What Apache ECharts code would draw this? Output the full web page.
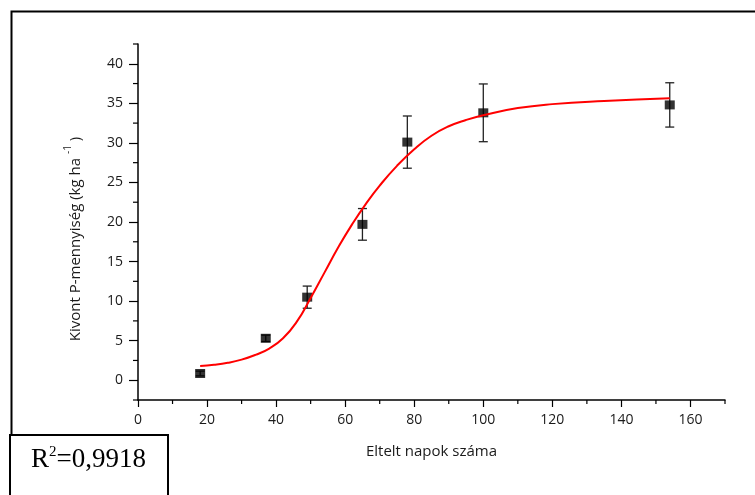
<!DOCTYPE html>
<html>
<head>
<meta charset="utf-8">
<script src="https://cdn.jsdelivr.net/npm/echarts@6/dist/echarts.min.js"></script>
<style>
html,body{margin:0;padding:0;background:#fff;}
#chart{width:755px;height:495px;}
</style>
</head>
<body>
<div id="chart"></div>
<script>
// Measured data points (day, mean, +/- error)
const days = [18, 37, 49, 65, 78, 100, 154];
const meanP = [0.85, 5.3, 10.5, 19.7, 30.1, 33.8, 34.8];
const errP = [0.3, 0.4, 1.4, 2.0, 3.3, 3.65, 2.8];

// Fitted curve
const fitDays = [18, 22, 26, 30, 34, 38, 42, 46, 50, 54, 58, 62, 66, 70, 75, 80, 85, 90, 95, 100, 110, 120, 135, 154];
const fitP = [1.8, 1.95, 2.2, 2.6, 3.2, 4.0, 5.3, 7.4, 10.4, 13.6, 16.8, 19.7, 22.3, 24.6, 27.1, 29.2, 30.9, 32.1, 32.9, 33.5, 34.4, 34.9, 35.3, 35.65];

// Axis ticks
const xMajorTicks = [0, 20, 40, 60, 80, 100, 120, 140, 160];
const xMinorTicks = [10, 30, 50, 70, 90, 110, 130, 150, 170];
const yMajorTicks = [0, 5, 10, 15, 20, 25, 30, 35, 40];
const yMinorTicks = [-2.5, 2.5, 7.5, 12.5, 17.5, 22.5, 27.5, 32.5, 37.5, 42.5];
const xMin = 0, xMax = 170, yMin = -2.5, yMax = 42.5;

const xTitle = 'Eltelt napok száma';
const yTitleMain = 'Kivont P-mennyiség (kg ha ';
const yTitleSup = '-1';
const yTitleEnd = ' )';
const r2Label = 'R';
const r2Sup = '2';
const r2Value = '=0,9918';

const chart = echarts.init(document.getElementById('chart'), null, {renderer: 'canvas'});

const axisFont = {fontFamily: 'Open Sans', fontSize: 14, color: '#1a1a1a'};
const tickStyle = {stroke: '#000', lineWidth: 1.2};

function minorTickSeries(values, isX, len) {
  return {
    type: 'custom',
    xAxisIndex: 0, yAxisIndex: 0,
    silent: true, clip: false, z: 1,
    data: values.map(v => isX ? [v, yMin] : [xMin, v]),
    renderItem: function (params, api) {
      const p = api.coord([api.value(0), api.value(1)]);
      const shape = isX
        ? {x1: p[0], y1: p[1], x2: p[0], y2: p[1] + len}
        : {x1: p[0] - len, y1: p[1], x2: p[0], y2: p[1]};
      return {type: 'line', shape: shape, style: tickStyle};
    }
  };
}

const option = {
  animation: false,
  backgroundColor: '#fff',
  grid: {left: 138, right: 30, top: 44, bottom: 95, containLabel: false},
  xAxis: {
    type: 'value', min: xMin, max: xMax,
    axisLine: {show: true, onZero: false, lineStyle: {color: '#000', width: 1.5}},
    axisTick: {show: true, length: 7, customValues: xMajorTicks, lineStyle: {color: '#000', width: 1.2}},
    axisLabel: Object.assign({customValues: xMajorTicks, margin: 13}, axisFont),
    splitLine: {show: false},
    name: xTitle, nameLocation: 'middle', nameGap: 44,
    nameTextStyle: {fontFamily: 'Open Sans', fontSize: 15, color: '#1a1a1a'}
  },
  yAxis: {
    type: 'value', min: yMin, max: yMax,
    axisLine: {show: true, onZero: false, lineStyle: {color: '#000', width: 1.5}},
    axisTick: {show: true, length: 9, customValues: yMajorTicks, lineStyle: {color: '#000', width: 1.2}},
    axisLabel: Object.assign({customValues: yMajorTicks, margin: 15}, axisFont),
    splitLine: {show: false},
    name: '{t|' + yTitleMain + '}{s|' + yTitleSup + '}{t|' + yTitleEnd + '}',
    nameLocation: 'middle', nameGap: 49,
    nameTextStyle: {
      fontFamily: 'Open Sans', fontSize: 15, color: '#1a1a1a',
      padding: [0, 34, 0, 0],
      rich: {
        t: {fontFamily: 'Open Sans', fontSize: 15, color: '#1a1a1a', lineHeight: 26},
        s: {fontFamily: 'Open Sans', fontSize: 10, color: '#1a1a1a', lineHeight: 10, verticalAlign: 'top'}
      }
    }
  },
  series: [
    minorTickSeries(xMinorTicks, true, 4),
    minorTickSeries(yMinorTicks, false, 5),
    {
      type: 'custom',
      data: days.map((d, i) => [d, meanP[i] - errP[i], meanP[i] + errP[i]]),
      z: 2,
      renderItem: function (params, api) {
        const x = api.value(0);
        const top = api.coord([x, api.value(2)]);
        const bot = api.coord([x, api.value(1)]);
        const hw = 4.5;
        const st = {stroke: '#222', lineWidth: 1.3};
        return {
          type: 'group',
          children: [
            {type: 'line', shape: {x1: top[0], y1: top[1], x2: bot[0], y2: bot[1]}, style: st},
            {type: 'line', shape: {x1: top[0] - hw, y1: top[1], x2: top[0] + hw, y2: top[1]}, style: st},
            {type: 'line', shape: {x1: bot[0] - hw, y1: bot[1], x2: bot[0] + hw, y2: bot[1]}, style: st}
          ]
        };
      }
    },
    {
      type: 'scatter',
      symbol: 'rect', symbolSize: [10, 9],
      itemStyle: {color: '#000'},
      z: 3,
      data: days.map((d, i) => [d, meanP[i]])
    },
    {
      type: 'line',
      showSymbol: false, smooth: 0.5,
      lineStyle: {color: '#ff0000', width: 2},
      z: 4,
      data: fitDays.map((d, i) => [d, fitP[i]])
    }
  ],
  graphic: [
    {
      type: 'rect', left: 9, top: 9, z: 10,
      shape: {width: 800, height: 600},
      style: {fill: 'none', stroke: '#000', lineWidth: 2}
    },
    {
      type: 'rect', left: 9, top: 434, z: 10,
      shape: {width: 158, height: 90},
      style: {fill: '#fff', stroke: '#000', lineWidth: 2}
    },
    {
      type: 'text', z: 11,
      style: {
        x: 31, y: 460,
        text: '{a|' + r2Label + '}{b|' + r2Sup + '}{a|' + r2Value + '}',
        verticalAlign: 'middle',
        rich: {
          a: {fontFamily: 'Liberation Serif', fontSize: 27, color: '#000', lineHeight: 30},
          b: {fontFamily: 'Liberation Serif', fontSize: 15, color: '#000', lineHeight: 14, verticalAlign: 'top'}
        }
      }
    }
  ]
};

chart.setOption(option);
</script>
</body>
</html>
